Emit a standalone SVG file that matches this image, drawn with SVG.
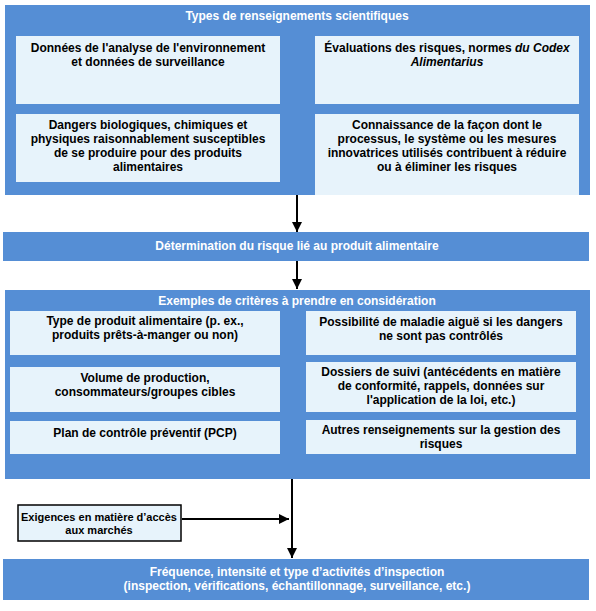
<svg xmlns="http://www.w3.org/2000/svg" width="596" height="611" viewBox="0 0 596 611">
<style>
.panel{fill:#558ED5}
.box{fill:#E7F3FB}
.ebox{fill:#E7F3FB;stroke:#000;stroke-width:1.5}
text{font-family:"Liberation Sans",Arial,sans-serif;font-size:12px;font-weight:bold;text-anchor:middle}
.w{fill:#fff}
.k{fill:#000}
.s{font-size:11px}
.conn{stroke:#000;stroke-width:2;fill:none}
</style>
<defs>
<marker id="ah" viewBox="0 0 10 10" refX="10" refY="5" markerWidth="10" markerHeight="10" markerUnits="userSpaceOnUse" orient="auto">
<path d="M0,0 L10,5 L0,10 z" fill="#000"/>
</marker>
</defs>
<rect width="596" height="611" fill="#fff"/>

<g id="types">
<rect class="panel" x="5" y="5" width="585" height="190"/>
<text class="w" x="297" y="20">Types de renseignements scientifiques</text>
</g>
<g id="donnees">
<rect class="box" x="16" y="36" width="264" height="68"/>
<text class="k" x="148" y="52">Données de l'analyse de l'environnement</text>
<text class="k" x="148" y="66">et données de surveillance</text>
</g>
<g id="evaluations">
<rect class="box" x="315" y="36" width="264" height="68"/>
<text class="k" x="447" y="52">Évaluations des risques, normes <tspan font-style="italic">du Codex</tspan></text>
<text class="k" x="447" y="66" font-style="italic">Alimentarius</text>
</g>
<g id="dangers">
<rect class="box" x="16" y="114" width="264" height="68"/>
<text class="k" x="148" y="129">Dangers biologiques, chimiques et</text>
<text class="k" x="148" y="143">physiques raisonnablement susceptibles</text>
<text class="k" x="148" y="157">de se produire pour des produits</text>
<text class="k" x="148" y="171">alimentaires</text>
</g>
<g id="connaissance">
<rect class="box" x="315" y="114" width="264" height="81"/>
<text class="k" x="447" y="129">Connaissance de la façon dont le</text>
<text class="k" x="447" y="143">processus, le système ou les mesures</text>
<text class="k" x="447" y="157">innovatrices utilisés contribuent à réduire</text>
<text class="k" x="447" y="171">ou à éliminer les risques</text>
</g>

<g id="determination">
<rect class="panel" x="3" y="232" width="586" height="29"/>
<text class="w" x="297" y="250">Détermination du risque lié au produit alimentaire</text>
</g>

<g id="exemples">
<rect class="panel" x="5" y="290" width="585" height="189"/>
<text class="w" x="297" y="305">Exemples de critères à prendre en considération</text>
</g>
<g id="type-produit">
<rect class="box" x="10" y="311" width="270" height="44"/>
<text class="k" x="145" y="325">Type de produit alimentaire (p. ex.,</text>
<text class="k" x="145" y="339">produits prêts-à-manger ou non)</text>
</g>
<g id="possibilite">
<rect class="box" x="306" y="311" width="270" height="44"/>
<text class="k" x="441" y="326">Possibilité de maladie aiguë si les dangers</text>
<text class="k" x="441" y="340">ne sont pas contrôlés</text>
</g>
<g id="volume">
<rect class="box" x="10" y="367" width="270" height="45"/>
<text class="k" x="145" y="382">Volume de production,</text>
<text class="k" x="145" y="396">consommateurs/groupes cibles</text>
</g>
<g id="dossiers">
<rect class="box" x="306" y="362" width="270" height="50"/>
<text class="k" x="441" y="376">Dossiers de suivi (antécédents en matière</text>
<text class="k" x="441" y="390">de conformité, rappels, données sur</text>
<text class="k" x="441" y="404">l'application de la loi, etc.)</text>
</g>
<g id="plan">
<rect class="box" x="10" y="421" width="270" height="33"/>
<text class="k" x="145" y="437">Plan de contrôle préventif (PCP)</text>
</g>
<g id="autres">
<rect class="box" x="306" y="420" width="270" height="34"/>
<text class="k" x="441" y="434">Autres renseignements sur la gestion des</text>
<text class="k" x="441" y="448">risques</text>
</g>

<g id="exigences">
<rect class="ebox" x="18" y="505" width="163" height="36"/>
<text class="k s" x="99" y="521">Exigences en matière d’accès</text>
<text class="k s" x="99" y="534">aux marchés</text>
</g>

<g id="frequence">
<rect class="panel" x="3" y="559" width="586" height="41"/>
<text class="w" x="297" y="576">Fréquence, intensité et type d’activités d’inspection</text>
<text class="w" x="297" y="590">(inspection, vérifications, échantillonnage, surveillance, etc.)</text>
</g>

<g id="connectors">
<line class="conn" x1="297" y1="195" x2="297" y2="232" marker-end="url(#ah)"/>
<line class="conn" x1="297" y1="261" x2="297" y2="289" marker-end="url(#ah)"/>
<line class="conn" x1="292" y1="479" x2="292" y2="558" marker-end="url(#ah)"/>
<line class="conn" x1="182" y1="519" x2="289" y2="519" marker-end="url(#ah)"/>
</g>
</svg>
